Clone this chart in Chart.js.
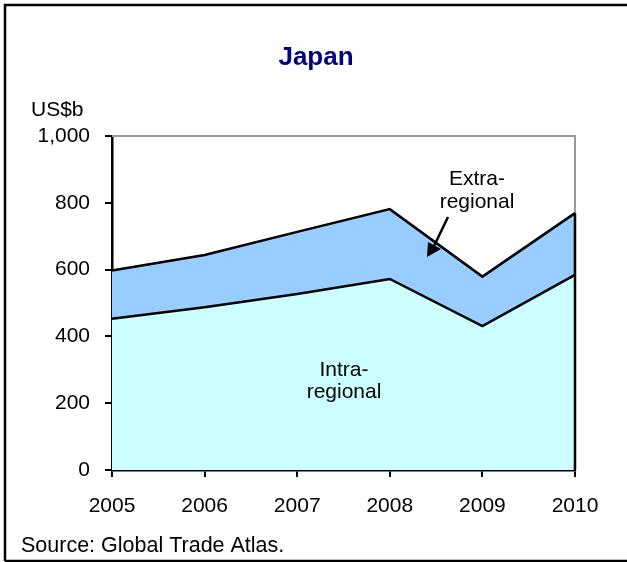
<!DOCTYPE html>
<html>
<head>
<meta charset="utf-8">
<script src="https://cdn.jsdelivr.net/npm/chart.js@4"></script>
<style>
  html, body { margin: 0; padding: 0; background: #fff; }
  #wrap { width: 627px; height: 562px; position: relative; }
</style>
</head>
<body>
<div id="wrap"><canvas id="c" width="627" height="562"></canvas></div>
<script>
const years = ['2005', '2006', '2007', '2008', '2009', '2010'];
const intraRegional = [453, 487, 527, 572, 431, 584];
const extraRegional = [144, 157, 186, 209, 148, 185];
const yTicks = [0, 200, 400, 600, 800, 1000];

const FONT = '"Liberation Sans", Arial, sans-serif';

const deco = {
  id: 'deco',
  beforeDatasetsDraw(chart) {
    const { ctx, chartArea: a } = chart;
    ctx.save();
    ctx.strokeStyle = '#999999';
    ctx.lineWidth = 2;
    ctx.beginPath();
    ctx.moveTo(a.left, a.top);
    ctx.lineTo(a.right, a.top);
    ctx.lineTo(a.right, a.bottom);
    ctx.stroke();
    ctx.restore();
  },
  afterDatasetsDraw(chart) {
    const { ctx } = chart;
    const xs = chart.scales.x, ys = chart.scales.y;
    const last = years.length - 1;
    const xr = xs.getPixelForValue(last);
    ctx.save();
    ctx.strokeStyle = '#000';
    ctx.lineWidth = 2.5;
    ctx.beginPath();
    ctx.moveTo(xr, ys.getPixelForValue(0));
    ctx.lineTo(xr, ys.getPixelForValue(intraRegional[last] + extraRegional[last]));
    ctx.stroke();
    ctx.restore();
  },
  afterDraw(chart) {
    const { ctx } = chart;
    ctx.save();
    // outer frame
    ctx.strokeStyle = '#000';
    ctx.lineWidth = 2.5;
    ctx.beginPath();
    ctx.moveTo(5, 561);
    ctx.lineTo(5, 5);
    ctx.lineTo(627, 5);
    ctx.moveTo(5, 561);
    ctx.lineTo(627, 561);
    ctx.stroke();

    // title
    ctx.fillStyle = '#000080';
    ctx.font = 'bold 26px ' + FONT;
    ctx.textAlign = 'center';
    ctx.textBaseline = 'alphabetic';
    ctx.fillText('Japan', 316, 65);

    ctx.fillStyle = '#000';
    ctx.font = '21px ' + FONT;
    ctx.textAlign = 'left';
    ctx.fillText('US$b', 31, 116);
    ctx.font = '21.5px ' + FONT;
    ctx.fillText('Source: Global Trade Atlas.', 21, 552);

    ctx.font = '21px ' + FONT;
    ctx.textAlign = 'center';
    ctx.fillText('Extra-', 477, 185);
    ctx.fillText('regional', 477, 208);
    ctx.fillText('Intra-', 344, 376);
    ctx.fillText('regional', 344, 398);

    // arrow
    ctx.lineWidth = 2.5;
    ctx.beginPath();
    ctx.moveTo(448, 217);
    ctx.lineTo(434, 246);
    ctx.stroke();
    ctx.beginPath();
    ctx.moveTo(427, 257);
    ctx.lineTo(428, 242);
    ctx.lineTo(441, 249);
    ctx.closePath();
    ctx.fill();
    ctx.restore();
  }
};

new Chart(document.getElementById('c'), {
  type: 'line',
  data: {
    labels: years,
    datasets: [
      {
        label: 'Intra-regional',
        data: intraRegional,
        backgroundColor: '#CCFFFF',
        borderColor: '#000',
        borderWidth: 2.5,
        pointRadius: 0,
        tension: 0,
        fill: 'origin'
      },
      {
        label: 'Extra-regional',
        data: extraRegional,
        backgroundColor: '#99CCFF',
        borderColor: '#000',
        borderWidth: 2.5,
        pointRadius: 0,
        tension: 0,
        fill: '-1'
      }
    ]
  },
  options: {
    responsive: false,
    animation: false,
    events: [],
    layout: { padding: { top: 136, right: 52, bottom: 0, left: 0 } },
    plugins: {
      legend: { display: false },
      title: { display: false },
      tooltip: { enabled: false }
    },
    scales: {
      x: {
        type: 'category',
        offset: false,
        grid: { display: true, drawOnChartArea: false, drawTicks: true, tickLength: 7, color: '#000', lineWidth: 2 },
        border: { display: true, color: '#000', width: 2.5 },
        ticks: { color: '#000', font: { family: FONT, size: 21 }, padding: 17, maxRotation: 0, autoSkip: false },
        afterFit(s) { s.height = 92; }
      },
      y: {
        stacked: true,
        min: 0,
        max: 1000,
        afterBuildTicks(s) { s.ticks = yTicks.map(v => ({ value: v })); },
        grid: { display: true, drawOnChartArea: false, drawTicks: true, tickLength: 7, color: '#000', lineWidth: 2 },
        border: { display: true, color: '#000', width: 2.5 },
        ticks: {
          color: '#000', font: { family: FONT, size: 21 }, padding: 15,
          callback: v => v.toLocaleString('en-US')
        },
        afterFit(s) { s.width = 112; }
      }
    }
  },
  plugins: [deco]
});
</script>
</body>
</html>
